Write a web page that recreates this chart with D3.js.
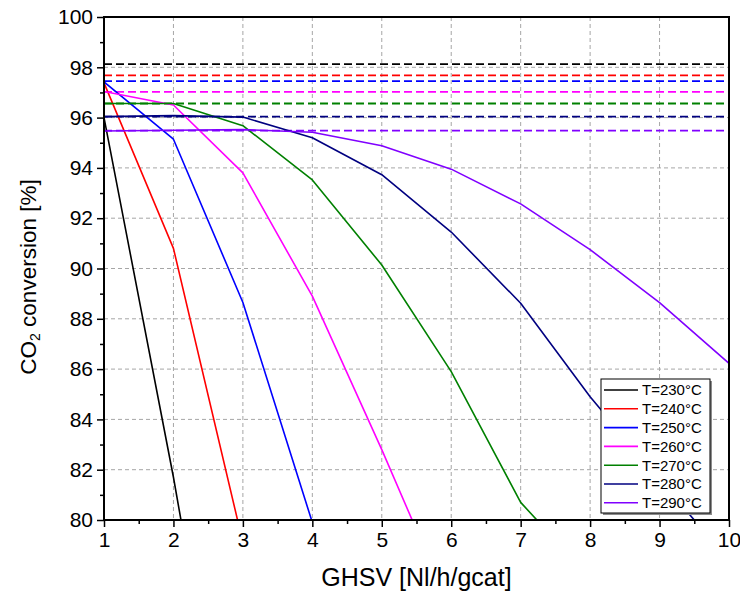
<!DOCTYPE html>
<html>
<head>
<meta charset="utf-8">
<script src="https://cdn.jsdelivr.net/npm/d3@7/dist/d3.min.js"></script>
<style>
  html, body { margin: 0; padding: 0; background: #fff; }
  svg { display: block; font-family: "Liberation Sans", Arial, sans-serif; }
</style>
</head>
<body>
<svg id="chart" width="740" height="602"></svg>
<script>
// GHSV values (Nl/h/gcat) at which conversion was computed
const ghsv = [1, 2, 3, 4, 5, 6, 7, 8, 9, 10];

// Legend labels, one per reactor temperature
const seriesLabels = ["T=230°C", "T=240°C", "T=250°C", "T=260°C", "T=270°C", "T=280°C", "T=290°C"];
const seriesColors = ["#000000", "#ff0000", "#0000ff", "#ff00ff", "#008000", "#000080", "#8000ff"];

// CO2 conversion [%] per temperature, aligned with ghsv
const conv230 = [96.0, 81.7, 66.0];
const conv240 = [97.38, 90.8, 79.1];
const conv250 = [97.42, 95.14, 88.65, 79.9, 71.5];
const conv260 = [97.04, 96.5, 93.8, 88.9, 82.8, 76.4];
const conv270 = [96.56, 96.56, 95.68, 93.52, 90.14, 85.9, 80.7, 77.7];
const conv280 = [96.04, 96.08, 96.02, 95.2, 93.73, 91.45, 88.62, 84.9, 81.6, 78.4];
const conv290 = [95.47, 95.5, 95.52, 95.42, 94.88, 93.95, 92.57, 90.75, 88.64, 86.23];

// Equilibrium conversion per temperature (dashed reference lines)
const equilibrium = [98.13, 97.68, 97.45, 97.02, 96.56, 96.04, 95.48];

// Axis ticks
const xTicks = [1, 2, 3, 4, 5, 6, 7, 8, 9, 10];
const xMinorTicks = [1.5, 2.5, 3.5, 4.5, 5.5, 6.5, 7.5, 8.5, 9.5];
const yTicks = [80, 82, 84, 86, 88, 90, 92, 94, 96, 98, 100];
const yMinorTicks = [81, 83, 85, 87, 89, 91, 93, 95, 97, 99];

const seriesValues = [conv230, conv240, conv250, conv260, conv270, conv280, conv290];

const margin = { left: 104, right: 11, top: 17, bottom: 82 };
const width = 740, height = 602;
const plotW = width - margin.left - margin.right;
const plotH = height - margin.top - margin.bottom;

const svg = d3.select("#chart");

const x = d3.scaleLinear().domain([1, 10]).range([margin.left, margin.left + plotW]);
const y = d3.scaleLinear().domain([80, 100]).range([margin.top + plotH, margin.top]);

svg.append("defs").append("clipPath").attr("id", "plot-clip")
  .append("rect")
  .attr("x", margin.left).attr("y", margin.top)
  .attr("width", plotW).attr("height", plotH);

// Dashed grid at major ticks
const grid = svg.append("g").attr("stroke", "#a6a6a6").attr("stroke-width", 1)
  .attr("stroke-dasharray", "4,3").attr("fill", "none");
xTicks.slice(1, -1).forEach(t => {
  grid.append("line").attr("x1", x(t)).attr("x2", x(t))
    .attr("y1", margin.top).attr("y2", margin.top + plotH);
});
yTicks.slice(1, -1).forEach(t => {
  grid.append("line").attr("x1", margin.left).attr("x2", margin.left + plotW)
    .attr("y1", y(t)).attr("y2", y(t));
});

const plot = svg.append("g").attr("clip-path", "url(#plot-clip)");

// Equilibrium lines
plot.selectAll("line.eq").data(equilibrium).join("line")
  .attr("class", "eq")
  .attr("x1", x(1)).attr("x2", x(10))
  .attr("y1", d => y(d)).attr("y2", d => y(d))
  .attr("stroke", (d, i) => seriesColors[i])
  .attr("stroke-width", 1.8)
  .attr("stroke-dasharray", "8,4");

// Conversion curves
const line = d3.line().x((d, i) => x(ghsv[i])).y(d => y(d));
plot.selectAll("path.curve").data(seriesValues).join("path")
  .attr("class", "curve")
  .attr("d", line)
  .attr("fill", "none")
  .attr("stroke", (d, i) => seriesColors[i])
  .attr("stroke-width", 1.6)
  .attr("stroke-linejoin", "round");

// Axes
const fontSize = 21;
const xAxis = d3.axisBottom(x).tickValues(xTicks).tickFormat(d3.format("d")).tickSize(7).tickPadding(5);
const xMinor = d3.axisBottom(x).tickValues(xMinorTicks).tickFormat("").tickSize(4);
const yAxis = d3.axisLeft(y).tickValues(yTicks).tickFormat(d3.format("d")).tickSize(7).tickPadding(4);
const yMinor = d3.axisLeft(y).tickValues(yMinorTicks).tickFormat("").tickSize(4);

function styleAxis(g) {
  g.select(".domain").remove();
  g.selectAll(".tick line").attr("stroke", "#000").attr("stroke-width", 1.5);
  g.selectAll(".tick text").attr("fill", "#000").style("font-size", fontSize + "px")
    .style("font-family", "'Liberation Sans', Arial, sans-serif");
}

svg.append("g").attr("transform", `translate(0,${margin.top + plotH})`).call(xAxis).call(styleAxis);
svg.append("g").attr("transform", `translate(0,${margin.top + plotH})`).call(xMinor).call(styleAxis);
svg.append("g").attr("transform", `translate(${margin.left},0)`).call(yAxis).call(styleAxis);
svg.append("g").attr("transform", `translate(${margin.left},0)`).call(yMinor).call(styleAxis);

// Frame
svg.append("rect")
  .attr("x", margin.left).attr("y", margin.top)
  .attr("width", plotW).attr("height", plotH)
  .attr("fill", "none").attr("stroke", "#000").attr("stroke-width", 2);

// Axis titles
svg.append("text")
  .attr("x", x(5.5)).attr("y", 586)
  .attr("text-anchor", "middle")
  .style("font-size", "25px")
  .text("GHSV [Nl/h/gcat]");

const yTitle = svg.append("text")
  .attr("transform", `translate(36,277) rotate(-90)`)
  .attr("text-anchor", "middle")
  .style("font-size", "22.5px");
yTitle.append("tspan").text("CO");
yTitle.append("tspan").attr("dy", "0.3em").style("font-size", "14px").text("2");
yTitle.append("tspan").attr("dy", "-0.19em").text(" conversion [%]");

// Legend
const lg = svg.append("g").attr("transform", "translate(601,379)");
const lgW = 109, lgH = 134;
lg.append("rect").attr("x", 2).attr("y", 2).attr("width", lgW).attr("height", lgH).attr("fill", "#8c8c8c");
lg.append("rect").attr("width", lgW).attr("height", lgH).attr("fill", "#fff")
  .attr("stroke", "#000").attr("stroke-width", 1);
seriesLabels.forEach((lab, i) => {
  const cy = 11 + i * 18.8;
  lg.append("line").attr("x1", 3).attr("x2", 37).attr("y1", cy).attr("y2", cy)
    .attr("stroke", seriesColors[i]).attr("stroke-width", 1.6);
  lg.append("text").attr("x", 41).attr("y", cy).attr("dy", "0.36em")
    .style("font-size", "15px").text(lab);
});
</script>
</body>
</html>
